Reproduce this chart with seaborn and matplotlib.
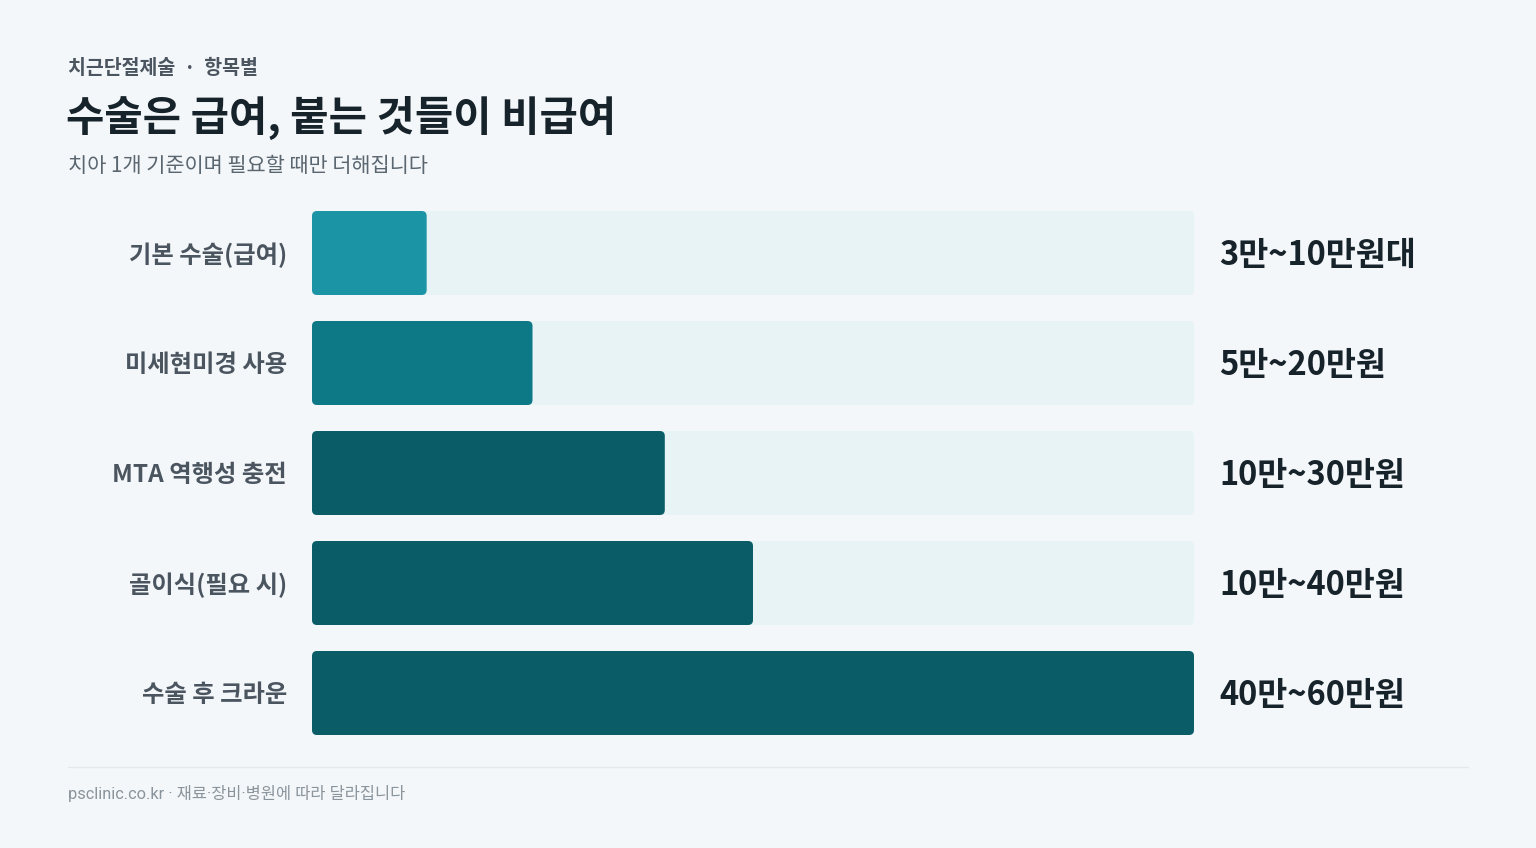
import numpy as np
import pandas as pd
import matplotlib
matplotlib.use("Agg")
import matplotlib.pyplot as plt
import seaborn as sns
from matplotlib.patches import FancyBboxPatch
from matplotlib.lines import Line2D

# Data: cost ranges per item (unit: 만원)
items = ["기본 수술(급여)", "미세현미경 사용", "MTA 역행성 충전", "골이식(필요 시)", "수술 후 크라운"]
low = [3, 5, 10, 10, 40]
high = [10, 20, 30, 40, 60]
range_labels = ["3만~10만원대", "5만~20만원", "10만~30만원", "10만~40만원", "40만~60만원"]
bar_colors = ["#1b94a5", "#0d7886", "#0a5c66", "#0a5c66", "#0a5c66"]
scale_max = 50

df = pd.DataFrame({"item": items, "low": low, "high": high})
df["mid"] = (df["low"] + df["high"]) / 2
df["track"] = scale_max

sns.set_theme(style="white")
plt.rcParams["font.family"] = ["Noto Sans CJK KR", "DejaVu Sans"]

BG = "#f4f7f9"
W, H = 1536, 848
fig = plt.figure(figsize=(W / 100, H / 100), dpi=100, facecolor=BG)
ax = fig.add_axes([312 / W, (H - 748) / H, 882 / W, 550 / H])
ax.set_facecolor(BG)

bar_h = 84 / 110
sns.barplot(data=df, x="track", y="item", color="#e8f3f5", width=bar_h,
            saturation=1, ax=ax)
sns.barplot(data=df, x="mid", y="item", hue="item", palette=bar_colors,
            width=bar_h, saturation=1, legend=False, ax=ax)

ax.set_xlim(0, scale_max)
ax.set_ylim(len(items) - 0.5, -0.5)

# rounded corners for every bar
px_x = 882 / scale_max
px_y = 110
for p in list(ax.patches):
    x0, y0 = p.get_x(), p.get_y()
    w, h = p.get_width(), p.get_height()
    fc = p.get_facecolor()
    z = p.get_zorder()
    p.remove()
    r = 5 / px_x
    ax.add_patch(FancyBboxPatch((x0, y0), w, h,
                                boxstyle=f"round,pad=0,rounding_size={r}",
                                mutation_aspect=px_x / px_y,
                                facecolor=fc, edgecolor="none", zorder=z))

ax.set_xlabel("")
ax.set_ylabel("")
ax.set_xticks([])
ax.set_yticks([])
for s in ax.spines.values():
    s.set_visible(False)

# category labels and range labels
for i, (name, lab) in enumerate(zip(items, range_labels)):
    ax.text(-25 / px_x, i + 0.02, name, ha="right", va="center", fontsize=17.5,
            color="#4a5560", fontweight="semibold")
    ax.text(scale_max + 25 / px_x, i + 0.02, lab, ha="left", va="center",
            fontsize=23.5, color="#17232b", fontweight="bold")

# header
fig.text(68 / W, 1 - 68 / H, "치근단절제술  ·  항목별", ha="left", va="center",
         fontsize=14, color="#4a5560", fontweight="semibold")
fig.text(66 / W, 1 - 118 / H, "수술은 급여, 붙는 것들이 비급여", ha="left", va="center",
         fontsize=30, color="#17232b", fontweight="black")
fig.text(68 / W, 1 - 166 / H, "치아 1개 기준이며 필요할 때만 더해집니다", ha="left",
         va="center", fontsize=15, color="#5a6670")

# footer
fig.add_artist(Line2D([68 / W, 1468 / W], [1 - 767 / H, 1 - 767 / H],
                      color="#e2e8ec", linewidth=1))
fig.text(68 / W, 1 - 793 / H, "psclinic.co.kr · 재료·장비·병원에 따라 달라집니다",
         ha="left", va="center", fontsize=11.8, color="#8a949c",
         family=["Roboto", "Noto Sans CJK KR", "DejaVu Sans"])

fig.savefig("out.png", dpi=100, facecolor=BG)
